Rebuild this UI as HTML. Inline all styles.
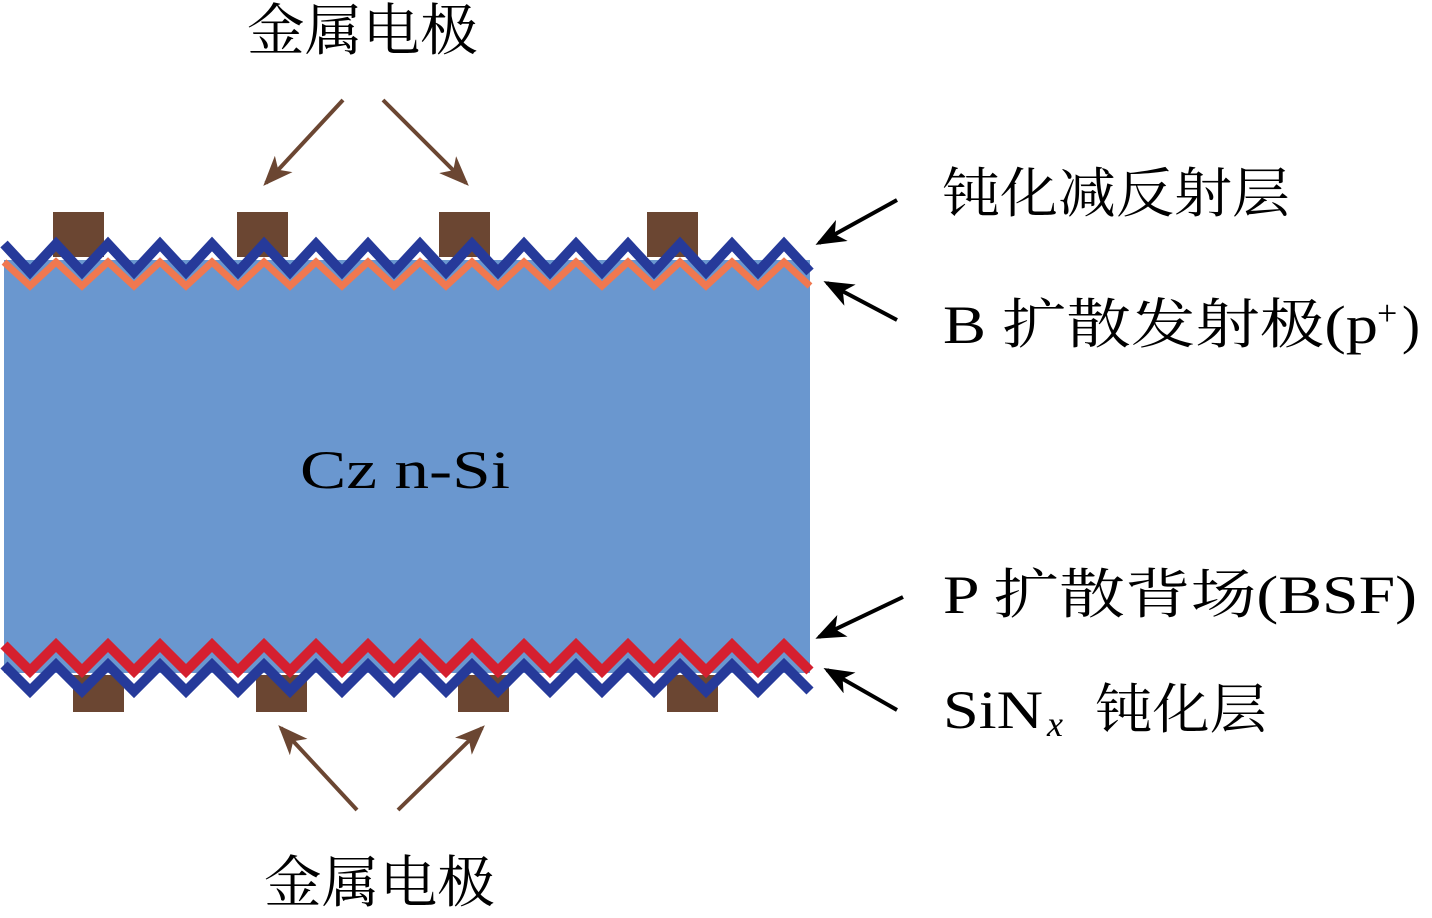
<!DOCTYPE html>
<html><head><meta charset="utf-8"><style>
html,body{margin:0;padding:0;background:#fff;width:1432px;height:918px;overflow:hidden}
text{font-family:"Liberation Serif","Noto Serif CJK SC","Noto Sans CJK SC",serif;fill:#000}
</style></head><body>
<svg id="s" width="1432" height="918" viewBox="0 0 1432 918" xmlns="http://www.w3.org/2000/svg">
<defs>
<marker id="ab" markerWidth="30" markerHeight="24" refX="26" refY="12" orient="auto" markerUnits="userSpaceOnUse" viewBox="0 0 30 24"><path d="M0,0 L30,12 L0,24 L8,12 z" fill="#000"/></marker>
<marker id="ar" markerWidth="30" markerHeight="24" refX="26" refY="12" orient="auto" markerUnits="userSpaceOnUse" viewBox="0 0 30 24"><path d="M0,0 L30,12 L0,24 L8,12 z" fill="#6b4632"/></marker>
</defs>
<rect x="4" y="260" width="806" height="413" fill="#6a97cf"/>
<g fill="#6b4632">
<rect x="53" y="212" width="51" height="45"/><rect x="237" y="212" width="51" height="45"/>
<rect x="439" y="212" width="51" height="45"/><rect x="647" y="212" width="51" height="45"/>
<rect x="73" y="675" width="51" height="37"/><rect x="256" y="675" width="51" height="37"/>
<rect x="458" y="675" width="51" height="37"/><rect x="667" y="675" width="51" height="37"/>
</g>
<g id="zz" fill="none" stroke-linejoin="miter"></g>
<g stroke="#6b4632" stroke-width="4" fill="none">
<line x1="343" y1="100" x2="266" y2="183" marker-end="url(#ar)"/>
<line x1="383" y1="100" x2="466" y2="183" marker-end="url(#ar)"/>
<line x1="357" y1="810" x2="281" y2="728" marker-end="url(#ar)"/>
<line x1="398" y1="810" x2="482" y2="728" marker-end="url(#ar)"/>
</g>
<g stroke="#000" stroke-width="4" fill="none">
<line x1="897" y1="200" x2="819" y2="243" marker-end="url(#ab)"/>
<line x1="897" y1="320" x2="827" y2="283" marker-end="url(#ab)"/>
<line x1="903" y1="597" x2="819" y2="637" marker-end="url(#ab)"/>
<line x1="897" y1="710" x2="827" y2="670" marker-end="url(#ab)"/>
</g>
<text x="247" y="50" font-size="56" textLength="231" lengthAdjust="spacingAndGlyphs">金属电极</text>
<text x="264" y="902" font-size="56" textLength="231" lengthAdjust="spacingAndGlyphs">金属电极</text>
<text x="300" y="488" font-size="54" textLength="210" lengthAdjust="spacingAndGlyphs">Cz  n-Si</text>
<text x="942" y="212" font-size="54" textLength="348" lengthAdjust="spacingAndGlyphs">钝化减反射层</text>
<text x="943" y="343" font-size="54" textLength="435" lengthAdjust="spacingAndGlyphs">B  扩散发射极(p</text>
<text x="1377" y="325" font-size="36">+</text>
<text x="1402" y="343" font-size="54">)</text>
<text x="943" y="613" font-size="54" textLength="474" lengthAdjust="spacingAndGlyphs">P  扩散背场(BSF)</text>
<text x="943" y="728" font-size="54" textLength="100" lengthAdjust="spacingAndGlyphs">SiN</text>
<text x="1047" y="736" font-size="36" font-style="italic">x</text>
<text x="1095" y="728" font-size="54" textLength="172" lengthAdjust="spacingAndGlyphs">钝化层</text>
</svg>
<script>
function zz(yp,yv,col,w){var p=[];for(var k=0;k<=31;k++){var x=4+26*k;p.push(x+","+(k%2==0?yp:yv));}
var l=document.createElementNS("http://www.w3.org/2000/svg","polyline");l.setAttribute("points",p.join(" "));
l.setAttribute("stroke",col);l.setAttribute("stroke-width",w);l.setAttribute("fill","none");document.getElementById("zz").appendChild(l);}
zz(262,286,"#f07850",7);
zz(244,272,"#263a9a",10);
zz(665,691,"#263a9a",10);
zz(645,671,"#d5202f",10);
</script>
</body></html>
